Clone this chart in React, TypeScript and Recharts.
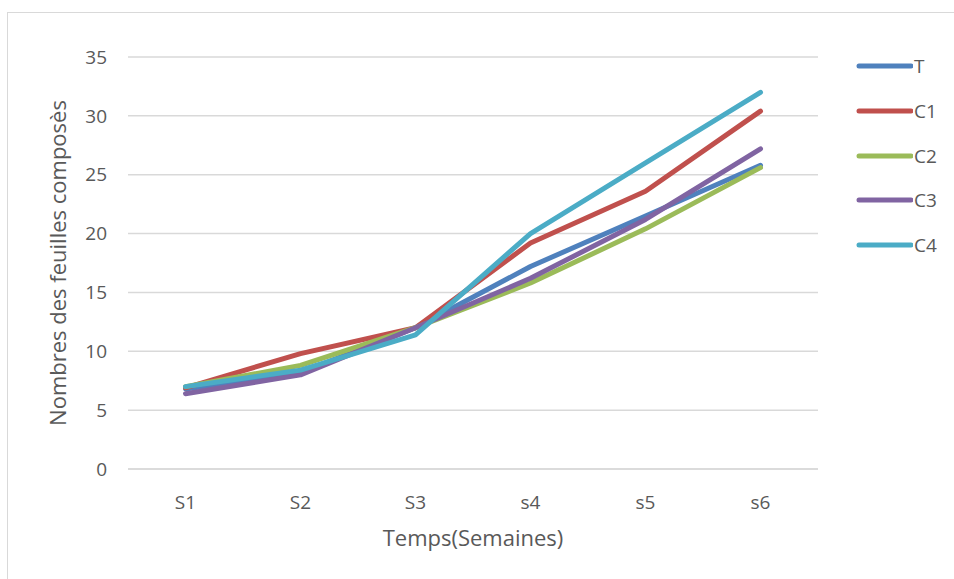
import React from 'react';
import { LineChart, Line, XAxis, YAxis, CartesianGrid, Label } from 'recharts';

const weeks = ['S1', 'S2', 'S3', 's4', 's5', 's6'];
const yTicks = [0, 5, 10, 15, 20, 25, 30, 35];

const tValues = [6.8, 8.2, 12.0, 17.2, 21.5, 25.8];
const c1Values = [6.9, 9.8, 12.0, 19.2, 23.6, 30.4];
const c2Values = [7.0, 8.8, 12.0, 15.8, 20.4, 25.6];
const c3Values = [6.4, 8.0, 12.0, 16.2, 21.2, 27.2];
const c4Values = [7.0, 8.4, 11.4, 20.0, 26.0, 32.0];

const SERIES = [
    { key: 'T', values: tValues, color: '#4f81bd' },
    { key: 'C1', values: c1Values, color: '#c0504d' },
    { key: 'C2', values: c2Values, color: '#9bbb59' },
    { key: 'C3', values: c3Values, color: '#8064a2' },
    { key: 'C4', values: c4Values, color: '#4bacc6' },
];

const data = weeks.map((w, i) => {
    const row: { [k: string]: string | number } = { week: w };
    SERIES.forEach(s => { row[s.key] = s.values[i]; });
    return row;
});

const FONT = '"Open Sans", sans-serif';
const TEXT = '#595959';

// legend drawn beside the chart so it doesn't shrink the plot area
const SideLegend = () => (
    <div style={{ position: 'absolute', left: 853, top: 44, fontFamily: FONT, fontSize: 19, color: TEXT }}>
        {SERIES.map(s => (
            <div key={s.key} style={{ display: 'flex', alignItems: 'center', height: 44.7 }}>
                <svg width={60} height={8} style={{ marginRight: 1 }}>
                    <line x1={6} y1={4} x2={58} y2={4} stroke={s.color} strokeWidth={5} strokeLinecap="round" />
                </svg>
                <span>{s.key}</span>
            </div>
        ))}
    </div>
);

export default function App() {
    return (
        <div style={{ position: 'absolute', left: 0, top: 0, width: 954, height: 579, background: '#fff', overflow: 'hidden' }}>
            <div style={{ position: 'absolute', left: 7, top: 12, width: 960, height: 580, borderLeft: '1.5px solid #d9d9d9', borderTop: '1.5px solid #d9d9d9' }} />
            <LineChart
                width={954}
                height={579}
                data={data}
                margin={{ top: 57, right: 136, bottom: 80, left: 58 }}
                style={{ position: 'absolute', left: 0, top: 0 }}
            >
                <CartesianGrid vertical={false} stroke="#d9d9d9" strokeWidth={1.5} />
                <XAxis
                    dataKey="week"
                    padding={{ left: 57.5, right: 57.5 }}
                    axisLine={{ stroke: '#d9d9d9', strokeWidth: 1.5 }}
                    tickLine={false}
                    tickMargin={21}
                    height={30}
                    tick={{ fill: TEXT, fontSize: 19, fontFamily: FONT }}
                >
                    <Label value="Temps(Semaines)" position="insideBottom" offset={-47} fill={TEXT} fontSize={22} fontFamily={FONT} />
                </XAxis>
                <YAxis
                    domain={[0, 35]}
                    ticks={yTicks}
                    axisLine={false}
                    tickLine={false}
                    tickMargin={15}
                    width={70}
                    tick={{ fill: TEXT, fontSize: 19, fontFamily: FONT }}
                >
                    <Label value="Nombres des feuilles composès" angle={-90} position="insideLeft" offset={0} style={{ textAnchor: 'middle' }} fill={TEXT} fontSize={22} fontFamily={FONT} />
                </YAxis>
                {SERIES.map(s => (
                    <Line
                        key={s.key}
                        type="linear"
                        dataKey={s.key}
                        stroke={s.color}
                        strokeWidth={5}
                        strokeLinecap="round"
                        strokeLinejoin="round"
                        dot={false}
                        activeDot={false}
                        isAnimationActive={false}
                    />
                ))}
            </LineChart>
            <SideLegend />
        </div>
    );
}
